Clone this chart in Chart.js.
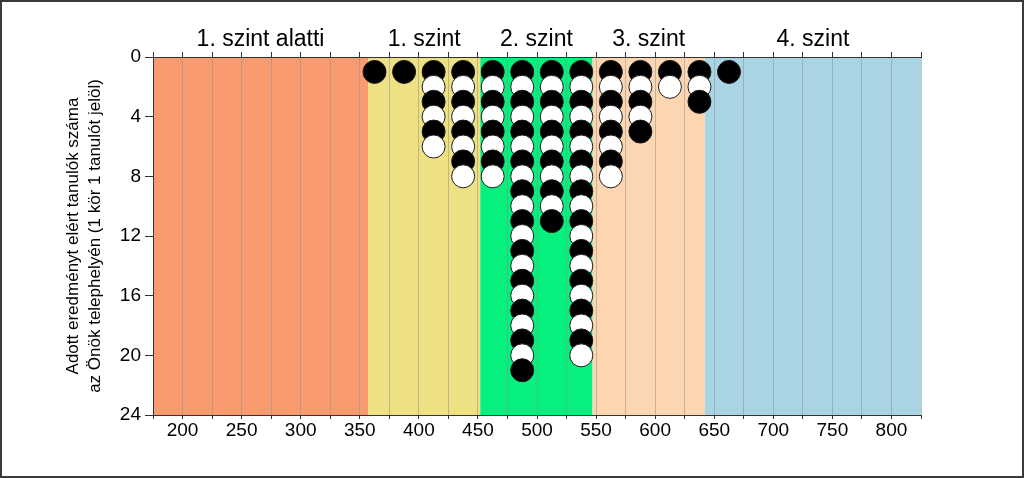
<!DOCTYPE html>
<html>
<head>
<meta charset="utf-8">
<script src="https://cdn.jsdelivr.net/npm/chart.js@4"></script>
<style>
  body { margin: 0; background: #fff; }
  #wrap { position: relative; width: 1024px; height: 478px; }
  #frame { position: absolute; left: 0; top: 0; width: 1024px; height: 478px;
           box-sizing: border-box; border: 2px solid #3a3a3a; pointer-events: none; }
</style>
</head>
<body>
<div id="wrap">
  <canvas id="dotChart" width="1024" height="478"></canvas>
  <div id="frame"></div>
</div>
<script>
// Score bins (centre of each 25-point bin) and number of students in each
const binCenters = [362.5, 387.5, 412.5, 437.5, 462.5, 487.5, 512.5, 537.5, 562.5, 587.5, 612.5, 637.5, 662.5];
const studentCounts = [1, 1, 6, 8, 8, 21, 11, 20, 8, 5, 2, 3, 1];

// Proficiency levels
const levelNames = ['1. szint alatti', '1. szint', '2. szint', '3. szint', '4. szint'];
const levelBounds = [175, 357, 452, 547, 642, 825];
const levelColors = ['#fa9a6f', '#ede183', '#06f07d', '#fdd6b1', '#a9d4e3'];

const xMin = 175, xMax = 825;
const yMin = 0, yMax = 24;

const yTitle = ['Adott eredményt elért tanulók száma', 'az Önök telephelyén (1 kör 1 tanulót jelöl)'];

// one circle per student, stacked down from the top
const points = [];
binCenters.forEach((x, i) => {
    for (let n = 1; n <= studentCounts[i]; n++) {
        points.push({ x: x, y: n });
    }
});

const levelCenters = levelNames.map((_, i) => (levelBounds[i] + levelBounds[i + 1]) / 2);

// colored level bands behind the grid
const levelBands = {
    id: 'levelBands',
    beforeDraw(chart) {
        const { ctx, chartArea, scales } = chart;
        const x = scales.x;
        ctx.save();
        for (let i = 0; i < levelNames.length; i++) {
            const left = x.getPixelForValue(levelBounds[i]);
            const right = x.getPixelForValue(levelBounds[i + 1]);
            ctx.fillStyle = levelColors[i];
            ctx.fillRect(left, chartArea.top, right - left, chartArea.bottom - chartArea.top);
        }
        ctx.restore();
    }
};

Chart.defaults.font.family = "'Liberation Sans', Arial, sans-serif";
Chart.defaults.color = '#000';

new Chart(document.getElementById('dotChart'), {
    type: 'scatter',
    data: {
        datasets: [{
            data: points,
            pointRadius: 11.5,
            pointBorderWidth: 1,
            pointBorderColor: '#1a1a1a',
            pointBackgroundColor: ctx => (ctx.raw && ctx.raw.y % 2 === 1) ? '#000' : '#fff'
        }]
    },
    options: {
        responsive: false,
        animation: false,
        events: [],
        layout: { padding: { left: 0, right: 103, top: 0, bottom: 0 } },
        plugins: {
            legend: { display: false },
            tooltip: { enabled: false }
        },
        scales: {
            x: {
                type: 'linear',
                position: 'bottom',
                min: xMin,
                max: xMax,
                afterFit: s => { s.height = 63; },
                grid: {
                    color: 'rgba(140,140,140,0.5)',
                    tickColor: '#333',
                    tickLength: 4
                },
                border: { color: '#333' },
                ticks: {
                    stepSize: 25,
                    autoSkip: false,
                    maxRotation: 0,
                    padding: 0,
                    font: { size: 19 },
                    callback: v => (v % 50 === 0 ? String(v) : '')
                }
            },
            xTicksTop: {
                type: 'linear',
                position: 'top',
                weight: 0,
                min: xMin,
                max: xMax,
                afterFit: s => { s.height = 6; },
                grid: { drawOnChartArea: false, tickColor: '#333', tickLength: 5 },
                border: { color: '#333' },
                ticks: { stepSize: 25, autoSkip: false, display: false }
            },
            xLevels: {
                type: 'linear',
                position: 'top',
                weight: 1,
                min: xMin,
                max: xMax,
                afterFit: s => { s.height = 51; },
                afterBuildTicks: axis => { axis.ticks = levelCenters.map(v => ({ value: v })); },
                grid: { display: false, drawTicks: false },
                border: { display: false },
                ticks: {
                    autoSkip: false,
                    maxRotation: 0,
                    padding: -2,
                    font: { size: 23 },
                    callback: (v, i) => levelNames[i]
                }
            },
            y: {
                reverse: true,
                min: yMin,
                max: yMax,
                afterFit: s => { s.width = 153; },
                grid: { drawOnChartArea: false, color: '#333', tickColor: '#333', tickLength: 8 },
                border: { color: '#333' },
                ticks: { stepSize: 4, padding: 4, font: { size: 19 } },
                title: {
                    display: true,
                    text: yTitle,
                    font: { size: 17, lineHeight: 1.32 },
                    padding: { top: 62, bottom: 0 }
                }
            }
        }
    },
    plugins: [levelBands]
});
</script>
</body>
</html>
